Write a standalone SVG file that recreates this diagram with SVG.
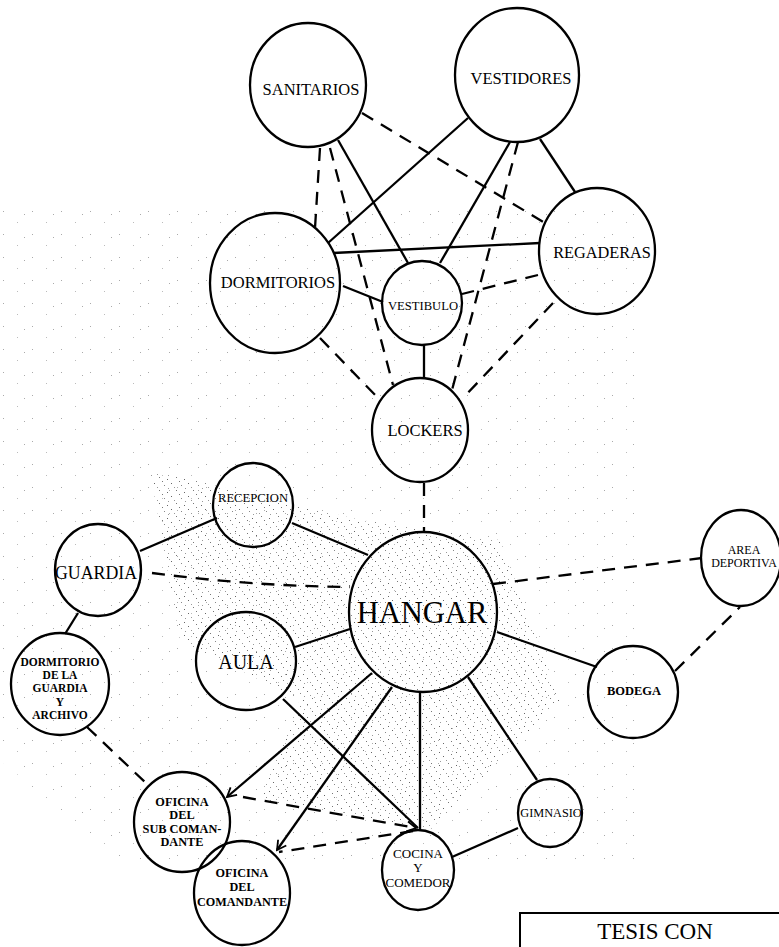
<svg xmlns="http://www.w3.org/2000/svg" width="779" height="947" viewBox="0 0 779 947">
<style>
.n{fill:none;stroke:#000;stroke-width:2.3}
.s{fill:none;stroke:#000;stroke-width:2.3}
.d{fill:none;stroke:#000;stroke-width:2.3;stroke-dasharray:13 9}
text{font-family:"Liberation Serif","Times New Roman",serif;fill:#000;text-anchor:middle}
.b{font-weight:bold}
</style>
<defs>
<pattern id="st" width="17" height="13" patternUnits="userSpaceOnUse">
<rect x="1" y="2" width="1" height="1" fill="#666"/>
<rect x="6" y="9" width="1" height="1" fill="#777"/>
<rect x="11" y="4" width="1" height="1" fill="#888"/>
<rect x="14" y="11" width="1" height="1" fill="#666"/>
<rect x="4" y="6" width="1" height="1" fill="#999"/>
<rect x="9" y="0" width="1" height="1" fill="#777"/>
<rect x="15" y="7" width="1" height="1" fill="#999"/>
</pattern>
<pattern id="st2" width="29" height="23" patternUnits="userSpaceOnUse">
<rect x="3" y="4" width="1" height="1" fill="#aaa"/>
<rect x="17" y="15" width="1" height="1" fill="#bbb"/>
<rect x="24" y="7" width="1" height="1" fill="#aaa"/>
</pattern>
<marker id="arr" markerWidth="12" markerHeight="12" refX="10" refY="6" orient="auto" markerUnits="userSpaceOnUse">
<path d="M1,1 L10,6 L1,11" fill="none" stroke="#000" stroke-width="1.8"/>
</marker>
</defs>
<g id="background">
<path d="M0,200 L640,200 L640,860 L120,860 L0,760 Z" fill="url(#st2)"/>
<path d="M150,470 L360,520 L500,540 L560,700 L430,830 L260,800 L300,700 L180,640 Z" fill="url(#st)"/>
</g>
<g id="connectors">
<line class="s" x1="338" y1="140" x2="408" y2="263"/>
<line class="d" x1="330" y1="148" x2="393" y2="385"/>
<line class="d" x1="320" y1="148" x2="315" y2="228"/>
<line class="s" x1="468" y1="118" x2="328" y2="243"/>
<line class="s" x1="510" y1="142" x2="440" y2="263"/>
<line class="d" x1="518" y1="142" x2="452" y2="390"/>
<line class="s" x1="540" y1="139" x2="575" y2="192"/>
<line class="d" x1="362" y1="113" x2="545" y2="223"/>
<line class="s" x1="333" y1="253" x2="540" y2="243"/>
<line class="s" x1="343" y1="286" x2="383" y2="302"/>
<line class="d" x1="320" y1="338" x2="380" y2="400"/>
<line class="d" x1="538" y1="275" x2="462" y2="294"/>
<line class="d" x1="553" y1="303" x2="463" y2="398"/>
<line class="s" x1="424" y1="345" x2="424" y2="378"/>
<line class="d" x1="424" y1="483" x2="424" y2="532"/>
<line class="s" x1="217" y1="518" x2="140" y2="551"/>
<line class="s" x1="292" y1="523" x2="368" y2="555"/>
<path class="d" d="M152,573 Q250,586 350,587"/>
<line class="s" x1="78" y1="613" x2="65" y2="634"/>
<line class="s" x1="295" y1="647" x2="350" y2="629"/>
<line class="d" x1="493" y1="584" x2="702" y2="558"/>
<line class="s" x1="497" y1="632" x2="597" y2="667"/>
<line class="d" x1="675" y1="671" x2="740" y2="607"/>
<line class="s" x1="468" y1="677" x2="537" y2="780"/>
<line class="s" x1="420" y1="692" x2="420" y2="830"/>
<line class="s" x1="518" y1="828" x2="452" y2="857"/>
<line class="s" x1="283" y1="699" x2="418" y2="828"/>
<line class="s" x1="372" y1="673" x2="227" y2="797" marker-end="url(#arr)"/>
<line class="s" x1="392" y1="687" x2="277" y2="850" marker-end="url(#arr)"/>
<line class="d" x1="243" y1="797" x2="416" y2="828" marker-end="url(#arr)"/>
<line class="d" x1="413" y1="831" x2="279" y2="852"/>
<line class="d" x1="87" y1="727" x2="148" y2="785"/>
</g>
<g id="sanitarios"><ellipse class="n" cx="308" cy="85" rx="58" ry="62"/><text x="311" y="95" font-size="16.5">SANITARIOS</text></g>
<g id="vestidores"><ellipse class="n" cx="517" cy="75" rx="62" ry="67"/><text x="521" y="84" font-size="16.5">VESTIDORES</text></g>
<g id="regaderas"><ellipse class="n" cx="597" cy="251" rx="58" ry="63"/><text x="602" y="258" font-size="16.3">REGADERAS</text></g>
<g id="dormitorios"><ellipse class="n" cx="275" cy="283" rx="65" ry="70"/><text x="278" y="288" font-size="16.5">DORMITORIOS</text></g>
<g id="vestibulo"><ellipse class="n" cx="422" cy="303" rx="40" ry="42"/><text x="423" y="310" font-size="13" textLength="70" lengthAdjust="spacingAndGlyphs">VESTIBULO</text></g>
<g id="lockers"><ellipse class="n" cx="420" cy="430" rx="48" ry="52"/><text x="425" y="436" font-size="16.5">LOCKERS</text></g>
<g id="recepcion"><ellipse class="n" cx="253" cy="505" rx="40" ry="42"/><text x="253" y="502" font-size="12.5" textLength="70" lengthAdjust="spacingAndGlyphs">RECEPCION</text></g>
<g id="guardia"><ellipse class="n" cx="98" cy="570" rx="43" ry="46"/><text x="96" y="579" font-size="17.8">GUARDIA</text></g>
<g id="hangar"><ellipse class="n" cx="423" cy="612" rx="74" ry="80"/><text x="422" y="623" font-size="30.5">HANGAR</text></g>
<g id="aula"><ellipse class="n" cx="246" cy="661" rx="50" ry="49"/><text x="246" y="669" font-size="20">AULA</text></g>
<g id="dormitorio-guardia"><ellipse class="n" cx="60" cy="684" rx="49" ry="51"/>
<text class="b" font-size="11.5" x="60" y="666">DORMITORIO</text>
<text class="b" font-size="11.5" x="60" y="679">DE LA</text>
<text class="b" font-size="11.5" x="60" y="692">GUARDIA</text>
<text class="b" font-size="11.5" x="60" y="706">Y</text>
<text class="b" font-size="11.5" x="60" y="719">ARCHIVO</text></g>
<g id="area-deportiva"><ellipse class="n" cx="741" cy="558" rx="40" ry="48"/>
<text font-size="12" x="744" y="554">AREA</text>
<text font-size="12" x="744" y="567">DEPORTIVA</text></g>
<g id="bodega"><ellipse class="n" cx="633" cy="692" rx="45" ry="46"/><text class="b" x="634" y="695" font-size="12.5">BODEGA</text></g>
<g id="gimnasio"><ellipse class="n" cx="550" cy="813" rx="32" ry="34"/><text x="551" y="817" font-size="12.3">GIMNASIO</text></g>
<g id="cocina"><ellipse class="n" cx="418" cy="870" rx="36" ry="40"/>
<text font-size="13" x="418" y="858">COCINA</text>
<text font-size="13" x="418" y="872">Y</text>
<text font-size="13" x="418" y="887">COMEDOR</text></g>
<g id="oficina-sub"><ellipse class="n" cx="182" cy="822" rx="48" ry="50"/>
<text class="b" font-size="12.3" x="182" y="806">OFICINA</text>
<text class="b" font-size="12.3" x="182" y="819">DEL</text>
<text class="b" font-size="12.3" x="182" y="833">SUB COMAN-</text>
<text class="b" font-size="12.3" x="182" y="846">DANTE</text></g>
<g id="oficina-comandante"><ellipse class="n" cx="242" cy="893" rx="48" ry="52"/>
<text class="b" font-size="12.2" x="242" y="877">OFICINA</text>
<text class="b" font-size="12.2" x="242" y="891">DEL</text>
<text class="b" font-size="12.2" x="242" y="906">COMANDANTE</text></g>
<g id="tesis"><path d="M520,947 L520,913 L779,913" fill="none" stroke="#000" stroke-width="2"/>
<text x="655" y="939" font-size="23">TESIS CON</text></g>
</svg>
